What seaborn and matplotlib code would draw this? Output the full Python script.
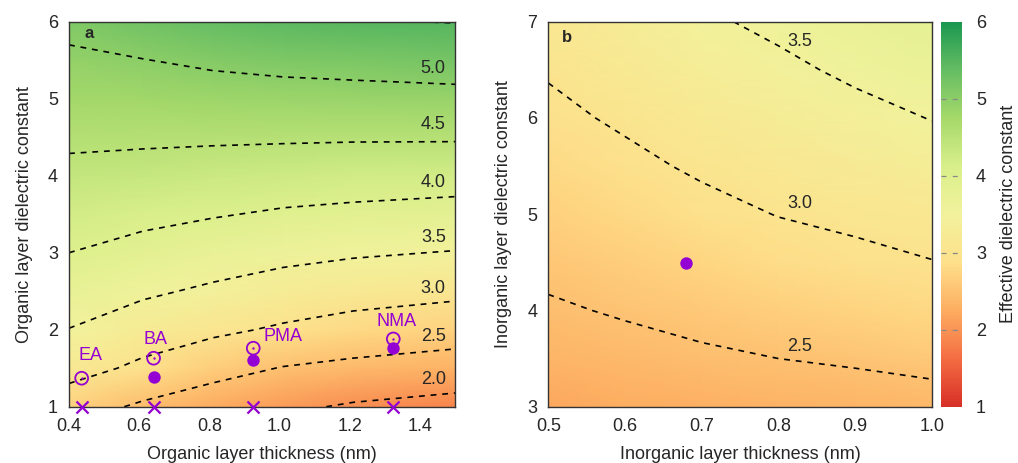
import numpy as np
import matplotlib
matplotlib.use("Agg")
import matplotlib.pyplot as plt
from matplotlib.colors import LinearSegmentedColormap
import seaborn as sns

# ---- panel a: organic layer thickness (nm) vs organic dielectric constant
ORG_T   = [0.40, 0.61, 0.81, 1.01, 1.21, 1.50]
ORG_EPS = [1.0, 1.5, 2.0, 2.5, 3.0, 3.5, 4.0, 4.5, 5.0, 5.5, 6.0]
EFF_A = [
    [2.71, 2.43, 2.24, 2.08, 1.95, 1.84],
    [3.19, 2.90, 2.66, 2.48, 2.39, 2.29],
    [3.49, 3.26, 3.09, 2.94, 2.81, 2.71],
    [3.75, 3.57, 3.43, 3.29, 3.20, 3.10],
    [4.00, 3.86, 3.73, 3.63, 3.55, 3.48],
    [4.19, 4.11, 4.03, 3.95, 3.90, 3.84],
    [4.39, 4.34, 4.29, 4.25, 4.22, 4.19],
    [4.58, 4.57, 4.56, 4.55, 4.54, 4.54],
    [4.75, 4.78, 4.81, 4.83, 4.85, 4.88],
    [4.92, 4.99, 5.07, 5.13, 5.16, 5.20],
    [5.12, 5.25, 5.37, 5.45, 5.48, 5.51],
]
LEVELS_A = [2.0, 2.5, 3.0, 3.5, 4.0, 4.5, 5.0, 5.5]

# compounds in panel a
CMPD_NAMES  = ["EA", "BA", "PMA", "NMA"]
CMPD_T      = [0.436, 0.641, 0.925, 1.324]
CMPD_OPEN   = [1.37, 1.63, 1.76, 1.88]
CMPD_FILLED = [np.nan, 1.38, 1.61, 1.76]
CMPD_CROSS  = [1.0, 1.0, 1.0, 1.0]

# ---- panel b: inorganic layer thickness (nm) vs inorganic dielectric constant
INORG_T   = [0.5, 0.6, 0.7, 0.8, 0.9, 1.0]
INORG_EPS = [3.0, 3.5, 4.0, 4.5, 5.0, 5.5, 6.0, 6.5, 7.0]
EFF_B = [
    [2.21, 2.25, 2.28, 2.31, 2.34, 2.38],
    [2.34, 2.39, 2.45, 2.50, 2.54, 2.59],
    [2.46, 2.53, 2.60, 2.67, 2.72, 2.79],
    [2.58, 2.66, 2.75, 2.84, 2.91, 2.99],
    [2.69, 2.79, 2.90, 3.01, 3.08, 3.16],
    [2.80, 2.92, 3.05, 3.15, 3.24, 3.34],
    [2.92, 3.05, 3.18, 3.29, 3.40, 3.51],
    [3.03, 3.17, 3.31, 3.43, 3.56, 3.67],
    [3.14, 3.29, 3.45, 3.57, 3.71, 3.82],
]
LEVELS_B = [2.5, 3.0, 3.5]
POINT_B = (0.679, 4.49)

sns.set_style("white")
plt.rcParams["font.family"] = ["Liberation Sans", "DejaVu Sans"]
plt.rcParams["font.size"] = 13

cmap = LinearSegmentedColormap.from_list(
    "rdylgn_soft", ["#d73027", "#f46d43", "#fdae61", "#fee08b", "#f2f29c",
                    "#d9ef8b", "#a6d96a", "#66bd63", "#1a9850"])
PURPLE = "#9400d3"
DASH = (0, (3.5, 3.5))
FS = 13

fig = plt.figure(figsize=(10.18, 4.63), dpi=100)
ax_a = fig.add_axes([0.0678, 0.1216, 0.3792, 0.8314])
ax_b = fig.add_axes([0.5386, 0.1216, 0.3769, 0.8314])
cax  = fig.add_axes([0.9240, 0.1216, 0.0210, 0.8314])


def draw_field(ax, xs, ys, z, levels):
    X, Y = np.meshgrid(xs, ys)
    Z = np.array(z)
    mesh = ax.pcolormesh(X, Y, Z, shading="gouraud", cmap=cmap, vmin=1, vmax=6,
                         rasterized=True)
    ax.contour(X, Y, Z, levels=levels, colors="black", linewidths=1.2,
               linestyles=[DASH])
    for s in ax.spines.values():
        s.set_linewidth(1.0)
        s.set_color("#333333")
    ax.tick_params(length=0, labelsize=FS)
    ax.tick_params(axis="x", pad=8)
    ax.tick_params(axis="y", pad=8)
    return mesh


mesh = draw_field(ax_a, ORG_T, ORG_EPS, EFF_A, LEVELS_A)
ax_a.set_xlim(0.4, 1.5)
ax_a.set_ylim(1, 6)
ax_a.set_xticks([0.4, 0.6, 0.8, 1.0, 1.2, 1.4])
ax_a.set_xticklabels(["0.4", "0.6", "0.8", "1.0", "1.2", "1.4"])
ax_a.set_yticks(range(1, 7))
ax_a.set_xlabel("Organic layer thickness (nm)", fontsize=FS, labelpad=8)
ax_a.set_ylabel("Organic layer dielectric constant", fontsize=FS, labelpad=11)
for lev, ly in zip(["5.0", "4.5", "4.0", "3.5", "3.0", "2.5", "2.0"],
                   [5.39, 4.67, 3.91, 3.20, 2.54, 1.91, 1.35]):
    ax_a.text(1.438, ly, lev, ha="center", va="center", fontsize=FS)
ax_a.text(0.052, 0.97, "a", transform=ax_a.transAxes, fontsize=12,
          fontweight="bold", ha="center", va="center")

# compound markers
sns.scatterplot(x=CMPD_T, y=CMPD_CROSS, marker="x", s=75, color=PURPLE,
                linewidth=1.6, ax=ax_a, clip_on=False, zorder=5)
sns.scatterplot(x=CMPD_T, y=CMPD_OPEN, marker="o", s=85, facecolor="none",
                edgecolor=PURPLE, linewidth=1.3, ax=ax_a, zorder=5)
sns.scatterplot(x=CMPD_T, y=CMPD_OPEN, marker="o", s=3, color=PURPLE,
                linewidth=0, ax=ax_a, zorder=5)
sns.scatterplot(x=CMPD_T, y=CMPD_FILLED, marker="o", s=80, color=PURPLE,
                linewidth=0, ax=ax_a, zorder=5)
for name, tx, ty in zip(CMPD_NAMES, [0.462, 0.646, 1.01, 1.333],
                        [1.67, 1.87, 1.91, 2.11]):
    ax_a.text(tx, ty, name, color=PURPLE, fontsize=FS, ha="center", va="center")

draw_field(ax_b, INORG_T, INORG_EPS, EFF_B, LEVELS_B)
ax_b.set_xlim(0.5, 1.0)
ax_b.set_ylim(3, 7)
ax_b.set_xticks([0.5, 0.6, 0.7, 0.8, 0.9, 1.0])
ax_b.set_xticklabels(["0.5", "0.6", "0.7", "0.8", "0.9", "1.0"])
ax_b.set_yticks(range(3, 8))
ax_b.set_xlabel("Inorganic layer thickness (nm)", fontsize=FS, labelpad=8)
ax_b.set_ylabel("Inorganic layer dielectric constant", fontsize=FS, labelpad=11)
for lev, ly in zip(["3.5", "3.0", "2.5"], [6.80, 5.11, 3.63]):
    ax_b.text(0.828, ly, lev, ha="center", va="center", fontsize=FS)
ax_b.text(0.048, 0.959, "b", transform=ax_b.transAxes, fontsize=12,
          fontweight="bold", ha="center", va="center")
sns.scatterplot(x=[POINT_B[0]], y=[POINT_B[1]], marker="o", s=80,
                color=PURPLE, linewidth=0, ax=ax_b, zorder=5)

cb = fig.colorbar(mesh, cax=cax, ticks=range(1, 7))
cb.outline.set_visible(False)
cb.ax.tick_params(length=0, labelsize=FS, pad=10)
for t in range(2, 6):
    cax.axhline(t, color="#888888", lw=0.9, ls=(0, (4, 5)))
cb.set_label("Effective dielectric constant", fontsize=FS, labelpad=10)

fig.savefig("out.png", dpi=100)
